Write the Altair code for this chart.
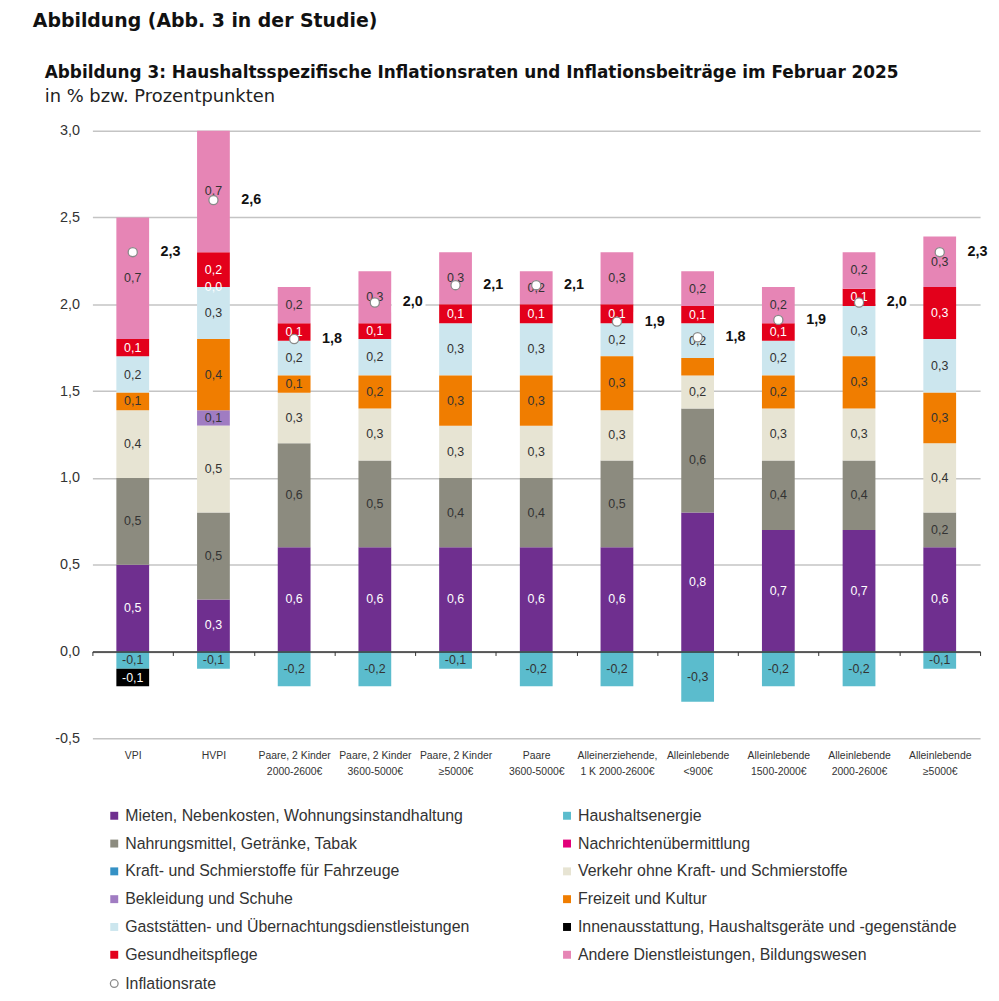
import altair as alt
import pandas as pd

# ---------------- data ----------------
categories = [
    "VPI", "HVPI",
    "Paare, 2 Kinder\n2000-2600€", "Paare, 2 Kinder\n3600-5000€", "Paare, 2 Kinder\n≥5000€",
    "Paare\n3600-5000€", "Alleinerziehende,\n1 K 2000-2600€", "Alleinlebende\n<900€",
    "Alleinlebende\n1500-2000€", "Alleinlebende\n2000-2600€", "Alleinlebende\n≥5000€",
]

# legend order (two columns, filled column by column)
components = [
    "Mieten, Nebenkosten, Wohnungsinstandhaltung",
    "Nahrungsmittel, Getränke, Tabak",
    "Kraft- und Schmierstoffe für Fahrzeuge",
    "Bekleidung und Schuhe",
    "Gaststätten- und Übernachtungsdienstleistungen",
    "Gesundheitspflege",
    "Haushaltsenergie",
    "Nachrichtenübermittlung",
    "Verkehr ohne Kraft- und Schmierstoffe",
    "Freizeit und Kultur",
    "Innenausstattung, Haushaltsgeräte und -gegenstände",
    "Andere Dienstleistungen, Bildungswesen",
]
colors = [
    "#6f2f8f", "#8c8b7f", "#3591c5", "#a07cc2", "#cce6ee", "#e3001b",
    "#5bbccd", "#e2007a", "#e7e4d3", "#f07d00", "#000000", "#e685b5",
]
label_colors = [
    "white", "#333333", "#333333", "#333333", "#333333", "white",
    "#333333", "white", "#333333", "#333333", "white", "#333333",
]
# stacking order (negatives first, then positives from bottom to top)
stack_order = [
    "Haushaltsenergie", "Innenausstattung, Haushaltsgeräte und -gegenstände",
    "Mieten, Nebenkosten, Wohnungsinstandhaltung", "Nahrungsmittel, Getränke, Tabak",
    "Kraft- und Schmierstoffe für Fahrzeuge",
    "Verkehr ohne Kraft- und Schmierstoffe", "Bekleidung und Schuhe", "Freizeit und Kultur",
    "Gaststätten- und Übernachtungsdienstleistungen", "Nachrichtenübermittlung",
    "Gesundheitspflege", "Andere Dienstleistungen, Bildungswesen",
]

N = None
mieten       = [0.5, 0.3, 0.6, 0.6, 0.6, 0.6, 0.6, 0.8, 0.7, 0.7, 0.6]
nahrung      = [0.5, 0.5, 0.6, 0.5, 0.4, 0.4, 0.5, 0.6, 0.4, 0.4, 0.2]
kraft        = [N, N, N, N, N, N, N, N, N, N, N]
bekleidung   = [N, 0.09, N, N, N, N, N, N, N, N, N]
gaststaetten = [0.21, 0.3, 0.2, 0.21, 0.3, 0.3, 0.19, 0.2, 0.2, 0.29, 0.31]
gesundheit   = [0.1, 0.2, 0.1, 0.09, 0.11, 0.11, 0.11, 0.1, 0.1, 0.1, 0.3]
energie      = [-0.1, -0.1, -0.2, -0.2, -0.1, -0.2, -0.2, -0.29, -0.2, -0.2, -0.1]
nachrichten  = [N, 0.0, N, N, N, N, N, N, N, N, N]
verkehr      = [0.39, 0.5, 0.29, 0.3, 0.3, 0.3, 0.29, 0.19, 0.3, 0.3, 0.4]
freizeit     = [0.1, 0.41, 0.1, 0.19, 0.29, 0.29, 0.31, 0.1, 0.19, 0.3, 0.29]
innen        = [-0.1, N, N, N, N, N, N, N, N, N, N]
andere       = [0.7, 0.7, 0.21, 0.3, 0.3, 0.19, 0.3, 0.2, 0.21, 0.21, 0.29]

series_values = [mieten, nahrung, kraft, bekleidung, gaststaetten, gesundheit,
                 energie, nachrichten, verkehr, freizeit, innen, andere]

# segments whose value label is not shown in the original
hidden_labels = [("Alleinlebende\n<900€", "Freizeit und Kultur")]

inflation_rate = [2.30, 2.60, 1.80, 2.01, 2.11, 2.11, 1.90, 1.81, 1.91, 2.01, 2.30]


def de(v):
    return f"{v:.1f}".replace(".", ",")


rows = []
for comp, vals, lc in zip(components, series_values, label_colors):
    for cat, v in zip(categories, vals):
        if v is None:
            continue
        rows.append({
            "cat": cat, "comp": comp, "value": v,
            "order": stack_order.index(comp),
            "label": "" if (cat, comp) in hidden_labels else de(v),
            "txtcol": lc,
        })
df = pd.DataFrame(rows)

rate_df = pd.DataFrame({
    "cat": categories,
    "rate": inflation_rate,
    "rlabel": [de(v) for v in inflation_rate],
    "series": ["Inflationsrate"] * len(categories),
})

# ---------------- chart ----------------
W, H = 894, 612
ymin, ymax = -0.5, 3.0
zero_px = H * (0 - ymin) / (ymax - ymin)

x_enc = alt.X(
    "cat:N", sort=categories,
    scale=alt.Scale(paddingInner=0, paddingOuter=0),
    axis=alt.Axis(
        orient="bottom", offset=-zero_px, title=None,
        domain=True, domainColor="#333333", domainWidth=1.5,
        ticks=True, tickBand="extent", tickColor="#333333", tickSize=4, tickWidth=1,
        labelPadding=zero_px + 8, labelAngle=0, labelFontSize=10.5, labelColor="#333333",
        labelBaseline="top", labelLineHeight=16, labelExpr="split(datum.label, '\\n')",
        grid=False, zindex=1,
    ),
)
y_scale = alt.Scale(domain=[ymin, ymax], nice=False, zero=False)
y_axis = alt.Axis(
    values=[-0.5, 0.0, 0.5, 1.0, 1.5, 2.0, 2.5, 3.0],
    labelExpr="replace(replace(format(datum.value, '.1f'), '.', ','), '\u2212', '-')",
    domain=False, ticks=False, grid=True, gridColor="#c4c4c4", gridWidth=1.5,
    labelPadding=13, labelFontSize=14.5, labelColor="#333333",
    minExtent=85, maxExtent=85, title=None,
)

base = alt.Chart(df).transform_stack(
    stack="value", groupby=["cat"], sort=[alt.SortField("order", "ascending")],
    as_=["y0", "y1"],
).transform_calculate(mid="(datum.y0 + datum.y1) / 2")

bars = base.mark_bar(size=33).encode(
    x=x_enc,
    y=alt.Y("y0:Q", scale=y_scale, axis=y_axis),
    y2="y1:Q",
    color=alt.Color(
        "comp:N",
        scale=alt.Scale(domain=components, range=colors),
        legend=alt.Legend(
            orient="none", legendX=14, legendY=682, columns=2, columnPadding=90,
            rowPadding=12, symbolType="square", symbolSize=64, symbolStrokeWidth=0,
            labelFontSize=16, labelColor="#333333", labelOffset=3, labelLimit=600,
            direction="vertical", title=None,
        ),
    ),
)

seg_text = base.mark_text(fontSize=12.5, baseline="middle").encode(
    x=alt.X("cat:N", sort=categories),
    y=alt.Y("mid:Q", scale=y_scale),
    text="label:N",
    color=alt.Color("txtcol:N", scale=None),
)

rate_base = alt.Chart(rate_df)

boxes = rate_base.mark_point(
    shape="M-1.7,-1H1.7V1H-1.7Z", filled=True, fill="white", opacity=1,
    size=400, xOffset=34, strokeWidth=0,
).encode(
    x=alt.X("cat:N", sort=categories),
    y=alt.Y("rate:Q", scale=y_scale),
)

dots = rate_base.mark_point(
    shape="circle", filled=False, fill="white", fillOpacity=1,
    strokeWidth=1.3, size=85, opacity=1,
).encode(
    x=alt.X("cat:N", sort=categories),
    y=alt.Y("rate:Q", scale=y_scale),
    stroke=alt.Stroke(
        "series:N",
        scale=alt.Scale(domain=["Inflationsrate"], range=["#8a8a8a"]),
        legend=alt.Legend(
            orient="none", legendX=14, legendY=851, symbolType="circle",
            symbolSize=60, symbolFillColor="white", symbolStrokeWidth=1.3,
            labelFontSize=16, labelColor="#333333", labelOffset=3,
            title=None,
        ),
    ),
)

rate_text = rate_base.mark_text(
    align="left", baseline="middle", dx=28, fontSize=14.5, fontWeight="bold", color="#111111",
).encode(
    x=alt.X("cat:N", sort=categories),
    y=alt.Y("rate:Q", scale=y_scale),
    text="rlabel:N",
)

inner = alt.layer(bars, seg_text, boxes, dots, rate_text).properties(
    width=W, height=H,
    title=alt.TitleParams(
        text="Abbildung 3: Haushaltsspezifische Inflationsraten und Inflationsbeiträge im Februar 2025",
        subtitle="in % bzw. Prozentpunkten",
        anchor="start", frame="bounds", dx=37,
        font="DejaVu Sans", fontSize=17, fontWeight="bold", color="#111111",
        subtitleFont="DejaVu Sans", subtitleFontSize=18, subtitleColor="#222222",
        subtitlePadding=6, offset=16,
    ),
)

chart = alt.vconcat(inner).properties(
    title=alt.TitleParams(
        text="Abbildung (Abb. 3 in der Studie)",
        anchor="start", frame="bounds", dx=25,
        font="DejaVu Sans", fontSize=19, fontWeight="bold", color="#111111", offset=33,
    ),
    padding={"left": 0, "top": 1, "right": 0, "bottom": 0},
).configure(font="Liberation Sans").configure_view(stroke=None)

chart.save("out.html", embed_options={"renderer": "svg", "actions": False})
